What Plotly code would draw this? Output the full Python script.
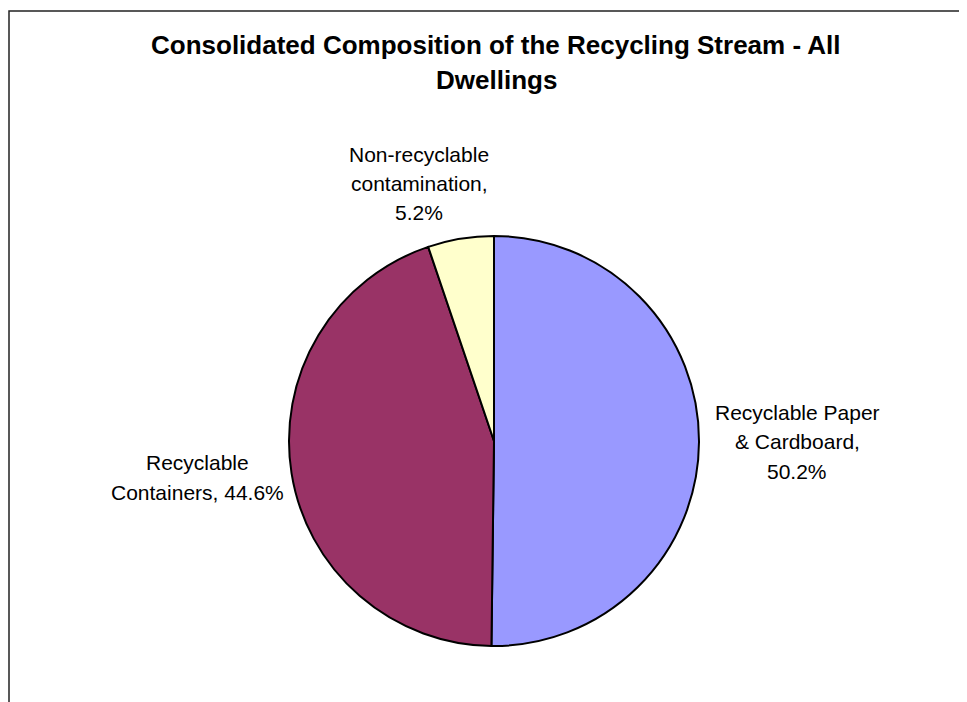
import plotly.graph_objects as go

# ---- data ----
categories = ["Recyclable Paper & Cardboard", "Recyclable Containers", "Non-recyclable contamination"]
values = [50.2, 44.6, 5.2]
colors = ["#9999FF", "#993366", "#FFFFCC"]
# how each category name is wrapped in its label
label_wraps = [
    ["Recyclable Paper", "& Cardboard,", "{p}%"],
    ["Recyclable", "Containers, {p}%"],
    ["Non-recyclable", "contamination,", "{p}%"],
]
title_lines = ["Consolidated Composition of the Recycling Stream - All", "Dwellings"]

# page body has an 8px margin; work in window pixels and convert
OFF = 8
WIN_W, WIN_H = 967, 702
W, H = WIN_W - OFF, WIN_H - OFF
FONT = "Liberation Sans, Arial, sans-serif"


def px(x):
    return (x - OFF) / W


def py(y):
    return 1 - (y - OFF) / H


# pie placement (window pixels)
cx, cy, r = 494, 441, 205

fig = go.Figure(go.Pie(
    labels=categories,
    values=values,
    sort=False,
    direction="clockwise",
    rotation=0,
    marker=dict(colors=colors, line=dict(color="black", width=2)),
    textinfo="none",
    hoverinfo="label+percent",
    showlegend=False,
    domain=dict(x=[px(cx - r), px(cx + r)], y=[py(cy + r), py(cy - r)]),
))

annotations = []
title_y = [45, 80]
for line, ty in zip(title_lines, title_y):
    annotations.append(dict(
        text="<b>" + line + "</b>", x=px(496), y=py(ty), xref="paper", yref="paper",
        xanchor="center", yanchor="middle", showarrow=False,
        font=dict(family=FONT, size=26, color="black"),
    ))

label_pos = [(797, 412), (197, 463), (419, 154)]
line_gap = 29.5
for wrap, v, (lx, ly) in zip(label_wraps, values, label_pos):
    for i, line in enumerate(wrap):
        annotations.append(dict(
            text=line.format(p=v), x=px(lx), y=py(ly + i * line_gap),
            xref="paper", yref="paper", xanchor="center", yanchor="middle",
            showarrow=False, font=dict(family=FONT, size=21, color="black"),
        ))

fig.update_layout(
    width=W, height=H,
    margin=dict(l=0, r=0, t=0, b=0),
    paper_bgcolor="white", plot_bgcolor="white",
    annotations=annotations,
    shapes=[dict(
        type="rect", xref="paper", yref="paper",
        x0=px(9), x1=1.05, y0=-0.05, y1=py(11),
        line=dict(color="#222222", width=1.5), fillcolor="rgba(0,0,0,0)",
    )],
)

fig.write_html("out.html")
